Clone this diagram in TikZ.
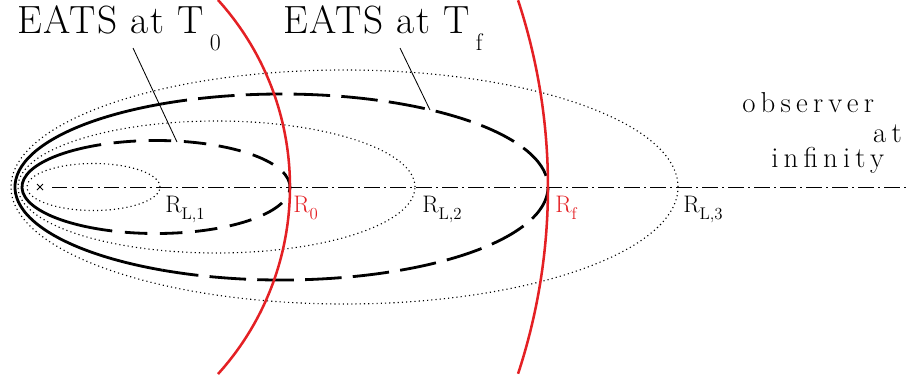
\documentclass[tikz,border=0pt]{standalone}
\usepackage{fontspec}
\usepackage{tikz}
\usetikzlibrary{calc}
\definecolor{shellred}{RGB}{228,32,36}
\newfontfamily\titlefont[LetterSpace=4]{Latin Modern Roman}
\newfontfamily\obsfont[LetterSpace=18]{Latin Modern Roman}
\newcommand{\lowsub}[3]{\raisebox{#1}{\fontsize{#2}{#2}\selectfont #3}}

\begin{document}
\begin{tikzpicture}[x=0.025cm,y=0.025cm,
  surf/.style={line width=0.8pt,dash pattern=on 0.8pt off 2.2pt},
  eats/.style={line width=2pt},
  eatsa/.style={eats,dash pattern=on 16pt off 9pt},
  eatsb/.style={eats,dash pattern=on 26pt off 8pt},
  shell/.style={draw=shellred,line width=1.8pt},
  los/.style={line width=0.7pt,dash pattern=on 11pt off 3pt on 1.5pt off 3pt},
  pointer/.style={line width=0.6pt},
  title/.style={inner sep=0pt,anchor=base west,font=\titlefont\fontsize{28}{32}\selectfont},
  obs/.style={inner sep=0pt,font=\obsfont\fontsize{20.5}{24}\selectfont},
  rad/.style={inner sep=0pt,anchor=base west,font=\fontsize{17}{20}\selectfont}]
\useasboundingbox (0,-195) rectangle (909,187);
\coordinate (origin) at (40,0);
\coordinate (inf) at (909,0);
\draw[los] (52,0) -- (inf);
\draw[line width=0.6pt] ($(origin)+(-3,-3)$) -- ($(origin)+(3,3)$) ($(origin)+(-3,3)$) -- ($(origin)+(3,-3)$);
\draw[surf] (93.5,0) ellipse [x radius=66.5,y radius=23.5];
\draw[surf] (216.5,0) ellipse [x radius=198.5,y radius=66];
\draw[surf] (344.5,0) ellipse [x radius=333.5,y radius=117];
\draw[eats] ($(156,0)+(119.5:134 and 46.5)$) arc[start angle=119.5,end angle=240.5,x radius=134,y radius=46.5];
\draw[eatsa] ($(156,0)+(-119.5:134 and 46.5)$) arc[start angle=-119.5,end angle=119.5,x radius=134,y radius=46.5];
\draw[eats] ($(281.5,0)+(116.6:266.5 and 93)$) arc[start angle=116.6,end angle=243.4,x radius=266.5,y radius=93];
\draw[eatsb] ($(281.5,0)+(-116.6:266.5 and 93)$) arc[start angle=-116.6,end angle=116.6,x radius=266.5,y radius=93];
\draw[shell] ($(11,0)+(42.1:279)$) arc[start angle=42.1,end angle=-42.1,radius=279];
\draw[shell] ($(-50,0)+(18.2:598)$) arc[start angle=18.2,end angle=-18.2,radius=598];
\node[title] (eats0) at (17,154) {EATS at T\kern4pt\lowsub{-0.45em}{17}{0}};
\node[title] (eatsf) at (283,154) {EATS at T\kern4pt\lowsub{-0.45em}{17}{f}};
\coordinate (tip0) at (177,45);
\coordinate (tipf) at (430,77);
\draw[pointer] (133,139) -- (tip0);
\draw[pointer] (400,139) -- (tipf);
\node[obs,anchor=base west] (observer) at (742,75) {observer};
\node[obs,anchor=base east] (obsat) at (902,45) {at};
\node[obs,anchor=base west] (infinity) at (771,20) {infinity};
\node[rad] (rl1) at (165,-25) {R\lowsub{-0.3em}{12}{L,1}};
\node[rad,text=shellred] (r0) at (293,-25) {R\lowsub{-0.3em}{12}{0}};
\node[rad] (rl2) at (422,-25) {R\lowsub{-0.3em}{12}{L,2}};
\node[rad,text=shellred] (rf) at (555,-25) {R\lowsub{-0.3em}{12}{f}};
\node[rad] (rl3) at (683,-25) {R\lowsub{-0.3em}{12}{L,3}};
\end{tikzpicture}
\end{document}
